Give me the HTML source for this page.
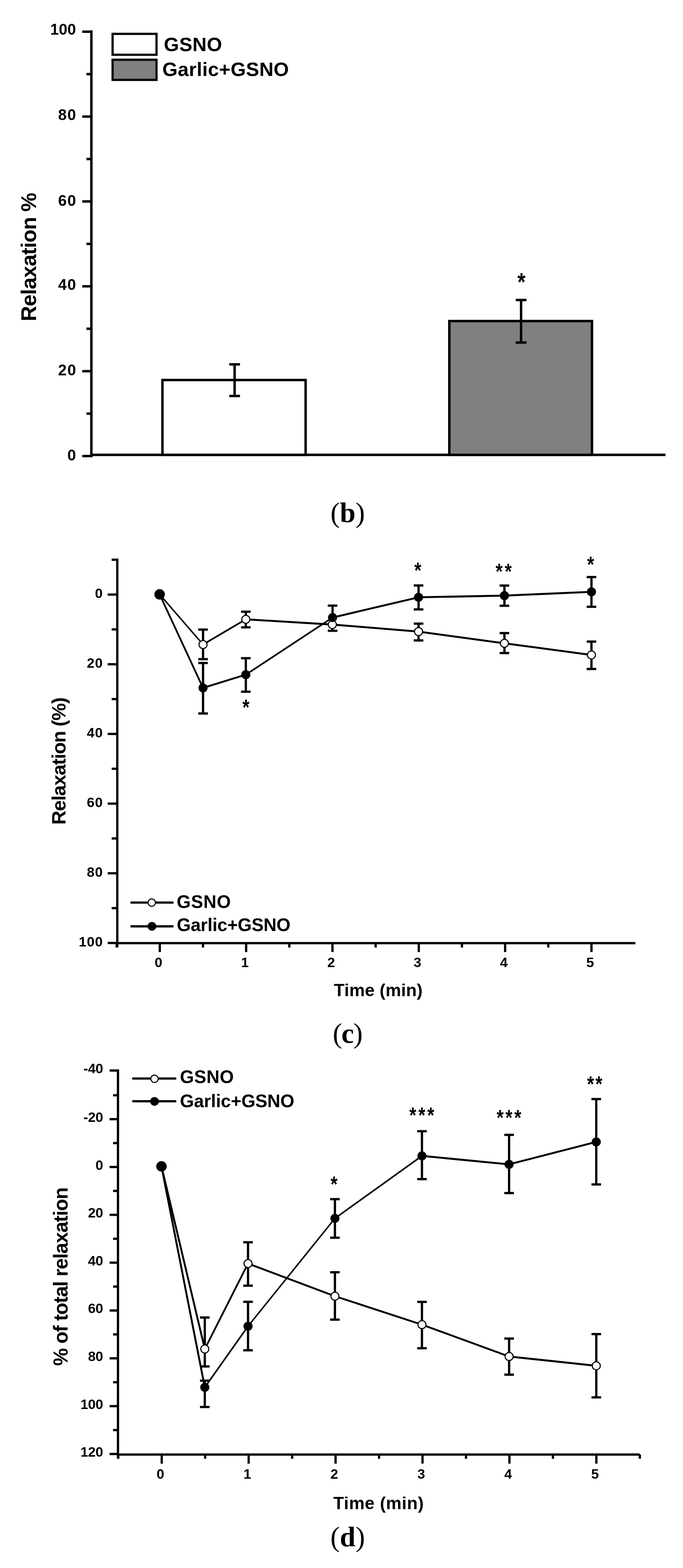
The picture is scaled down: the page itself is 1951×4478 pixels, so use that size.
<!DOCTYPE html>
<html><head><meta charset="utf-8"><title>Figure</title>
<style>
html,body{margin:0;padding:0;background:#fff;}
svg{display:block;}
line,path{stroke:#000;}
text{fill:#000;}
.sb{font-family:"Liberation Sans",Arial,sans-serif;font-weight:bold;}
.lab{font-family:"Liberation Serif","Times New Roman",serif;}
</style></head>
<body>
<svg width="1951" height="4478" viewBox="0 0 1951 4478">
<rect width="1951" height="4478" fill="#fff"/>
<line x1="261.0" y1="86.5" x2="261.0" y2="1306.0" stroke-width="7" stroke-linecap="butt"/>
<line x1="261.0" y1="1299.0" x2="1901.0" y2="1299.0" stroke-width="7" stroke-linecap="butt"/>
<line x1="235.0" y1="1302.5" x2="261.0" y2="1302.5" stroke-width="7" stroke-linecap="butt"/>
<line x1="247.0" y1="1181.3" x2="261.0" y2="1181.3" stroke-width="7" stroke-linecap="butt"/>
<line x1="235.0" y1="1060.1" x2="261.0" y2="1060.1" stroke-width="7" stroke-linecap="butt"/>
<line x1="247.0" y1="938.9" x2="261.0" y2="938.9" stroke-width="7" stroke-linecap="butt"/>
<line x1="235.0" y1="817.7" x2="261.0" y2="817.7" stroke-width="7" stroke-linecap="butt"/>
<line x1="247.0" y1="696.5" x2="261.0" y2="696.5" stroke-width="7" stroke-linecap="butt"/>
<line x1="235.0" y1="575.3" x2="261.0" y2="575.3" stroke-width="7" stroke-linecap="butt"/>
<line x1="247.0" y1="454.1" x2="261.0" y2="454.1" stroke-width="7" stroke-linecap="butt"/>
<line x1="235.0" y1="332.9" x2="261.0" y2="332.9" stroke-width="7" stroke-linecap="butt"/>
<line x1="247.0" y1="211.7" x2="261.0" y2="211.7" stroke-width="7" stroke-linecap="butt"/>
<line x1="235.0" y1="90.5" x2="261.0" y2="90.5" stroke-width="7" stroke-linecap="butt"/>
<rect x="464" y="1085.3" width="409" height="213.7" fill="#fff" stroke="#000" stroke-width="7"/>
<rect x="1283.5" y="916.9" width="407.5" height="382.1" fill="#808080" stroke="#000" stroke-width="7"/>
<line x1="670.2" y1="1040.5" x2="670.2" y2="1130.9" stroke-width="7" stroke-linecap="butt"/>
<line x1="654.9" y1="1040.5" x2="685.5" y2="1040.5" stroke-width="7" stroke-linecap="butt"/>
<line x1="654.9" y1="1130.9" x2="685.5" y2="1130.9" stroke-width="7" stroke-linecap="butt"/>
<line x1="1488.5" y1="856.8" x2="1488.5" y2="978.3" stroke-width="7" stroke-linecap="butt"/>
<line x1="1473.1" y1="856.8" x2="1503.9" y2="856.8" stroke-width="7" stroke-linecap="butt"/>
<line x1="1473.1" y1="978.3" x2="1503.9" y2="978.3" stroke-width="7" stroke-linecap="butt"/>
<rect x="321.6" y="96.7" width="125.5" height="59.7" fill="#fff" stroke="#000" stroke-width="6.3"/>
<rect x="321.6" y="170.6" width="125.5" height="57.6" fill="#808080" stroke="#000" stroke-width="6.3"/>
<line x1="335.0" y1="1595.3" x2="335.0" y2="2706.0" stroke-width="6.5" stroke-linecap="butt"/>
<line x1="335.0" y1="2693.5" x2="1815.0" y2="2693.5" stroke-width="6.5" stroke-linecap="butt"/>
<line x1="319.0" y1="1598.5" x2="335.0" y2="1598.5" stroke-width="6.5" stroke-linecap="butt"/>
<line x1="307.5" y1="1698.0" x2="335.0" y2="1698.0" stroke-width="6.5" stroke-linecap="butt"/>
<line x1="319.0" y1="1797.5" x2="335.0" y2="1797.5" stroke-width="6.5" stroke-linecap="butt"/>
<line x1="307.5" y1="1897.0" x2="335.0" y2="1897.0" stroke-width="6.5" stroke-linecap="butt"/>
<line x1="319.0" y1="1996.5" x2="335.0" y2="1996.5" stroke-width="6.5" stroke-linecap="butt"/>
<line x1="307.5" y1="2096.0" x2="335.0" y2="2096.0" stroke-width="6.5" stroke-linecap="butt"/>
<line x1="319.0" y1="2195.5" x2="335.0" y2="2195.5" stroke-width="6.5" stroke-linecap="butt"/>
<line x1="307.5" y1="2295.0" x2="335.0" y2="2295.0" stroke-width="6.5" stroke-linecap="butt"/>
<line x1="319.0" y1="2394.5" x2="335.0" y2="2394.5" stroke-width="6.5" stroke-linecap="butt"/>
<line x1="307.5" y1="2494.0" x2="335.0" y2="2494.0" stroke-width="6.5" stroke-linecap="butt"/>
<line x1="319.0" y1="2593.5" x2="335.0" y2="2593.5" stroke-width="6.5" stroke-linecap="butt"/>
<line x1="307.5" y1="2693.0" x2="335.0" y2="2693.0" stroke-width="6.5" stroke-linecap="butt"/>
<line x1="333.2" y1="2693.5" x2="333.2" y2="2706.0" stroke-width="6.5" stroke-linecap="butt"/>
<line x1="456.5" y1="2693.5" x2="456.5" y2="2719.0" stroke-width="6.5" stroke-linecap="butt"/>
<line x1="579.8" y1="2693.5" x2="579.8" y2="2706.0" stroke-width="6.5" stroke-linecap="butt"/>
<line x1="703.1" y1="2693.5" x2="703.1" y2="2719.0" stroke-width="6.5" stroke-linecap="butt"/>
<line x1="826.4" y1="2693.5" x2="826.4" y2="2706.0" stroke-width="6.5" stroke-linecap="butt"/>
<line x1="949.7" y1="2693.5" x2="949.7" y2="2719.0" stroke-width="6.5" stroke-linecap="butt"/>
<line x1="1073.0" y1="2693.5" x2="1073.0" y2="2706.0" stroke-width="6.5" stroke-linecap="butt"/>
<line x1="1196.3" y1="2693.5" x2="1196.3" y2="2719.0" stroke-width="6.5" stroke-linecap="butt"/>
<line x1="1319.6" y1="2693.5" x2="1319.6" y2="2706.0" stroke-width="6.5" stroke-linecap="butt"/>
<line x1="1442.9" y1="2693.5" x2="1442.9" y2="2719.0" stroke-width="6.5" stroke-linecap="butt"/>
<line x1="1566.2" y1="2693.5" x2="1566.2" y2="2706.0" stroke-width="6.5" stroke-linecap="butt"/>
<line x1="1689.5" y1="2693.5" x2="1689.5" y2="2719.0" stroke-width="6.5" stroke-linecap="butt"/>
<line x1="337.0" y1="3054.0" x2="337.0" y2="4166.0" stroke-width="6.5" stroke-linecap="butt"/>
<line x1="337.0" y1="4154.0" x2="1827.4" y2="4154.0" stroke-width="6.5" stroke-linecap="butt"/>
<line x1="313.0" y1="3057.3" x2="337.0" y2="3057.3" stroke-width="6.5" stroke-linecap="butt"/>
<line x1="323.0" y1="3127.9" x2="337.0" y2="3127.9" stroke-width="6.5" stroke-linecap="butt"/>
<line x1="313.0" y1="3196.2" x2="337.0" y2="3196.2" stroke-width="6.5" stroke-linecap="butt"/>
<line x1="323.0" y1="3264.5" x2="337.0" y2="3264.5" stroke-width="6.5" stroke-linecap="butt"/>
<line x1="313.0" y1="3332.8" x2="337.0" y2="3332.8" stroke-width="6.5" stroke-linecap="butt"/>
<line x1="323.0" y1="3401.1" x2="337.0" y2="3401.1" stroke-width="6.5" stroke-linecap="butt"/>
<line x1="313.0" y1="3469.4" x2="337.0" y2="3469.4" stroke-width="6.5" stroke-linecap="butt"/>
<line x1="323.0" y1="3537.7" x2="337.0" y2="3537.7" stroke-width="6.5" stroke-linecap="butt"/>
<line x1="313.0" y1="3606.0" x2="337.0" y2="3606.0" stroke-width="6.5" stroke-linecap="butt"/>
<line x1="323.0" y1="3674.3" x2="337.0" y2="3674.3" stroke-width="6.5" stroke-linecap="butt"/>
<line x1="313.0" y1="3742.6" x2="337.0" y2="3742.6" stroke-width="6.5" stroke-linecap="butt"/>
<line x1="323.0" y1="3810.9" x2="337.0" y2="3810.9" stroke-width="6.5" stroke-linecap="butt"/>
<line x1="313.0" y1="3879.2" x2="337.0" y2="3879.2" stroke-width="6.5" stroke-linecap="butt"/>
<line x1="323.0" y1="3947.5" x2="337.0" y2="3947.5" stroke-width="6.5" stroke-linecap="butt"/>
<line x1="313.0" y1="4015.8" x2="337.0" y2="4015.8" stroke-width="6.5" stroke-linecap="butt"/>
<line x1="323.0" y1="4084.1" x2="337.0" y2="4084.1" stroke-width="6.5" stroke-linecap="butt"/>
<line x1="313.0" y1="4152.4" x2="337.0" y2="4152.4" stroke-width="6.5" stroke-linecap="butt"/>
<line x1="337.9" y1="4154.0" x2="337.9" y2="4166.0" stroke-width="6.5" stroke-linecap="butt"/>
<line x1="462.0" y1="4154.0" x2="462.0" y2="4180.0" stroke-width="6.5" stroke-linecap="butt"/>
<line x1="586.1" y1="4154.0" x2="586.1" y2="4166.0" stroke-width="6.5" stroke-linecap="butt"/>
<line x1="710.3" y1="4154.0" x2="710.3" y2="4180.0" stroke-width="6.5" stroke-linecap="butt"/>
<line x1="834.5" y1="4154.0" x2="834.5" y2="4166.0" stroke-width="6.5" stroke-linecap="butt"/>
<line x1="958.6" y1="4154.0" x2="958.6" y2="4180.0" stroke-width="6.5" stroke-linecap="butt"/>
<line x1="1082.8" y1="4154.0" x2="1082.8" y2="4166.0" stroke-width="6.5" stroke-linecap="butt"/>
<line x1="1206.9" y1="4154.0" x2="1206.9" y2="4180.0" stroke-width="6.5" stroke-linecap="butt"/>
<line x1="1331.1" y1="4154.0" x2="1331.1" y2="4166.0" stroke-width="6.5" stroke-linecap="butt"/>
<line x1="1455.2" y1="4154.0" x2="1455.2" y2="4180.0" stroke-width="6.5" stroke-linecap="butt"/>
<line x1="1579.4" y1="4154.0" x2="1579.4" y2="4166.0" stroke-width="6.5" stroke-linecap="butt"/>
<line x1="1703.5" y1="4154.0" x2="1703.5" y2="4180.0" stroke-width="6.5" stroke-linecap="butt"/>
<line x1="1827.7" y1="4154.0" x2="1827.7" y2="4166.0" stroke-width="6.5" stroke-linecap="butt"/>
<line x1="580.0" y1="1798.0" x2="580.0" y2="1882.5" stroke-width="6.5" stroke-linecap="butt"/>
<line x1="566.3" y1="1798.0" x2="593.7" y2="1798.0" stroke-width="6.5" stroke-linecap="butt"/>
<line x1="566.3" y1="1882.5" x2="593.7" y2="1882.5" stroke-width="6.5" stroke-linecap="butt"/>
<line x1="702.2" y1="1746.9" x2="702.2" y2="1791.6" stroke-width="6.5" stroke-linecap="butt"/>
<line x1="688.5" y1="1746.9" x2="715.9" y2="1746.9" stroke-width="6.5" stroke-linecap="butt"/>
<line x1="688.5" y1="1791.6" x2="715.9" y2="1791.6" stroke-width="6.5" stroke-linecap="butt"/>
<line x1="1195.6" y1="1781.0" x2="1195.6" y2="1829.0" stroke-width="6.5" stroke-linecap="butt"/>
<line x1="1181.9" y1="1781.0" x2="1209.3" y2="1781.0" stroke-width="6.5" stroke-linecap="butt"/>
<line x1="1181.9" y1="1829.0" x2="1209.3" y2="1829.0" stroke-width="6.5" stroke-linecap="butt"/>
<line x1="1440.9" y1="1808.0" x2="1440.9" y2="1865.0" stroke-width="6.5" stroke-linecap="butt"/>
<line x1="1427.2" y1="1808.0" x2="1454.6" y2="1808.0" stroke-width="6.5" stroke-linecap="butt"/>
<line x1="1427.2" y1="1865.0" x2="1454.6" y2="1865.0" stroke-width="6.5" stroke-linecap="butt"/>
<line x1="1689.5" y1="1832.3" x2="1689.5" y2="1910.5" stroke-width="6.5" stroke-linecap="butt"/>
<line x1="1675.8" y1="1832.3" x2="1703.2" y2="1832.3" stroke-width="6.5" stroke-linecap="butt"/>
<line x1="1675.8" y1="1910.5" x2="1703.2" y2="1910.5" stroke-width="6.5" stroke-linecap="butt"/>
<line x1="580.0" y1="1893.4" x2="580.0" y2="2037.6" stroke-width="6.5" stroke-linecap="butt"/>
<line x1="566.3" y1="1893.4" x2="593.7" y2="1893.4" stroke-width="6.5" stroke-linecap="butt"/>
<line x1="566.3" y1="2037.6" x2="593.7" y2="2037.6" stroke-width="6.5" stroke-linecap="butt"/>
<line x1="702.2" y1="1879.7" x2="702.2" y2="1975.4" stroke-width="6.5" stroke-linecap="butt"/>
<line x1="688.5" y1="1879.7" x2="715.9" y2="1879.7" stroke-width="6.5" stroke-linecap="butt"/>
<line x1="688.5" y1="1975.4" x2="715.9" y2="1975.4" stroke-width="6.5" stroke-linecap="butt"/>
<line x1="950.0" y1="1729.6" x2="950.0" y2="1801.4" stroke-width="6.5" stroke-linecap="butt"/>
<line x1="936.3" y1="1729.6" x2="963.7" y2="1729.6" stroke-width="6.5" stroke-linecap="butt"/>
<line x1="936.3" y1="1801.4" x2="963.7" y2="1801.4" stroke-width="6.5" stroke-linecap="butt"/>
<line x1="1195.6" y1="1672.0" x2="1195.6" y2="1740.4" stroke-width="6.5" stroke-linecap="butt"/>
<line x1="1181.9" y1="1672.0" x2="1209.3" y2="1672.0" stroke-width="6.5" stroke-linecap="butt"/>
<line x1="1181.9" y1="1740.4" x2="1209.3" y2="1740.4" stroke-width="6.5" stroke-linecap="butt"/>
<line x1="1440.9" y1="1672.3" x2="1440.9" y2="1730.0" stroke-width="6.5" stroke-linecap="butt"/>
<line x1="1427.2" y1="1672.3" x2="1454.6" y2="1672.3" stroke-width="6.5" stroke-linecap="butt"/>
<line x1="1427.2" y1="1730.0" x2="1454.6" y2="1730.0" stroke-width="6.5" stroke-linecap="butt"/>
<line x1="1689.5" y1="1648.0" x2="1689.5" y2="1732.9" stroke-width="6.5" stroke-linecap="butt"/>
<line x1="1675.8" y1="1648.0" x2="1703.2" y2="1648.0" stroke-width="6.5" stroke-linecap="butt"/>
<line x1="1675.8" y1="1732.9" x2="1703.2" y2="1732.9" stroke-width="6.5" stroke-linecap="butt"/>
<line x1="456.0" y1="1697.5" x2="580.0" y2="1840.7" stroke-width="4.23" stroke-linecap="round"/>
<line x1="580.0" y1="1840.7" x2="702.2" y2="1768.7" stroke-width="4.82" stroke-linecap="round"/>
<line x1="702.2" y1="1768.7" x2="949.3" y2="1783.6" stroke-width="5.59" stroke-linecap="round"/>
<line x1="949.3" y1="1783.6" x2="1195.6" y2="1803.8" stroke-width="5.58" stroke-linecap="round"/>
<line x1="1195.6" y1="1803.8" x2="1440.9" y2="1837.2" stroke-width="5.55" stroke-linecap="round"/>
<line x1="1440.9" y1="1837.2" x2="1689.5" y2="1870.4" stroke-width="5.55" stroke-linecap="round"/>
<line x1="456.0" y1="1697.5" x2="580.0" y2="1964.5" stroke-width="5.08" stroke-linecap="round"/>
<line x1="580.0" y1="1964.5" x2="702.2" y2="1926.8" stroke-width="5.35" stroke-linecap="round"/>
<line x1="702.2" y1="1926.8" x2="950.0" y2="1763.6" stroke-width="4.68" stroke-linecap="round"/>
<line x1="950.0" y1="1763.6" x2="1195.6" y2="1705.8" stroke-width="5.45" stroke-linecap="round"/>
<line x1="1195.6" y1="1705.8" x2="1440.9" y2="1701.0" stroke-width="5.60" stroke-linecap="round"/>
<line x1="1440.9" y1="1701.0" x2="1689.5" y2="1690.2" stroke-width="5.59" stroke-linecap="round"/>
<circle cx="580.0" cy="1840.7" r="11.5" fill="#fff" stroke="#000" stroke-width="3"/>
<circle cx="702.2" cy="1768.7" r="11.5" fill="#fff" stroke="#000" stroke-width="3"/>
<circle cx="949.3" cy="1783.6" r="11.5" fill="#fff" stroke="#000" stroke-width="3"/>
<circle cx="1195.6" cy="1803.8" r="11.5" fill="#fff" stroke="#000" stroke-width="3"/>
<circle cx="1440.9" cy="1837.2" r="11.5" fill="#fff" stroke="#000" stroke-width="3"/>
<circle cx="1689.5" cy="1870.4" r="11.5" fill="#fff" stroke="#000" stroke-width="3"/>
<circle cx="580.0" cy="1964.5" r="13" fill="#000"/>
<circle cx="702.2" cy="1926.8" r="13" fill="#000"/>
<circle cx="950.0" cy="1763.6" r="13" fill="#000"/>
<circle cx="1195.6" cy="1705.8" r="13" fill="#000"/>
<circle cx="1440.9" cy="1701.0" r="13" fill="#000"/>
<circle cx="1689.5" cy="1690.2" r="13" fill="#000"/>
<circle cx="456" cy="1697.5" r="15" fill="#000"/>
<line x1="585.0" y1="3762.6" x2="585.0" y2="3902.4" stroke-width="6.5" stroke-linecap="butt"/>
<line x1="571.3" y1="3762.6" x2="598.7" y2="3762.6" stroke-width="6.5" stroke-linecap="butt"/>
<line x1="571.3" y1="3902.4" x2="598.7" y2="3902.4" stroke-width="6.5" stroke-linecap="butt"/>
<line x1="708.5" y1="3547.7" x2="708.5" y2="3671.7" stroke-width="6.5" stroke-linecap="butt"/>
<line x1="694.8" y1="3547.7" x2="722.2" y2="3547.7" stroke-width="6.5" stroke-linecap="butt"/>
<line x1="694.8" y1="3671.7" x2="722.2" y2="3671.7" stroke-width="6.5" stroke-linecap="butt"/>
<line x1="956.7" y1="3633.4" x2="956.7" y2="3768.7" stroke-width="6.5" stroke-linecap="butt"/>
<line x1="943.0" y1="3633.4" x2="970.4" y2="3633.4" stroke-width="6.5" stroke-linecap="butt"/>
<line x1="943.0" y1="3768.7" x2="970.4" y2="3768.7" stroke-width="6.5" stroke-linecap="butt"/>
<line x1="1205.3" y1="3718.0" x2="1205.3" y2="3850.4" stroke-width="6.5" stroke-linecap="butt"/>
<line x1="1191.6" y1="3718.0" x2="1219.0" y2="3718.0" stroke-width="6.5" stroke-linecap="butt"/>
<line x1="1191.6" y1="3850.4" x2="1219.0" y2="3850.4" stroke-width="6.5" stroke-linecap="butt"/>
<line x1="1454.3" y1="3822.7" x2="1454.3" y2="3925.9" stroke-width="6.5" stroke-linecap="butt"/>
<line x1="1440.6" y1="3822.7" x2="1468.0" y2="3822.7" stroke-width="6.5" stroke-linecap="butt"/>
<line x1="1440.6" y1="3925.9" x2="1468.0" y2="3925.9" stroke-width="6.5" stroke-linecap="butt"/>
<line x1="1703.3" y1="3810.0" x2="1703.3" y2="3990.7" stroke-width="6.5" stroke-linecap="butt"/>
<line x1="1689.6" y1="3810.0" x2="1717.0" y2="3810.0" stroke-width="6.5" stroke-linecap="butt"/>
<line x1="1689.6" y1="3990.7" x2="1717.0" y2="3990.7" stroke-width="6.5" stroke-linecap="butt"/>
<line x1="585.0" y1="3943.0" x2="585.0" y2="4018.2" stroke-width="6.5" stroke-linecap="butt"/>
<line x1="571.3" y1="3943.0" x2="598.7" y2="3943.0" stroke-width="6.5" stroke-linecap="butt"/>
<line x1="571.3" y1="4018.2" x2="598.7" y2="4018.2" stroke-width="6.5" stroke-linecap="butt"/>
<line x1="708.5" y1="3717.8" x2="708.5" y2="3856.2" stroke-width="6.5" stroke-linecap="butt"/>
<line x1="694.8" y1="3717.8" x2="722.2" y2="3717.8" stroke-width="6.5" stroke-linecap="butt"/>
<line x1="694.8" y1="3856.2" x2="722.2" y2="3856.2" stroke-width="6.5" stroke-linecap="butt"/>
<line x1="956.7" y1="3424.6" x2="956.7" y2="3534.7" stroke-width="6.5" stroke-linecap="butt"/>
<line x1="943.0" y1="3424.6" x2="970.4" y2="3424.6" stroke-width="6.5" stroke-linecap="butt"/>
<line x1="943.0" y1="3534.7" x2="970.4" y2="3534.7" stroke-width="6.5" stroke-linecap="butt"/>
<line x1="1205.3" y1="3230.6" x2="1205.3" y2="3367.4" stroke-width="6.5" stroke-linecap="butt"/>
<line x1="1191.6" y1="3230.6" x2="1219.0" y2="3230.6" stroke-width="6.5" stroke-linecap="butt"/>
<line x1="1191.6" y1="3367.4" x2="1219.0" y2="3367.4" stroke-width="6.5" stroke-linecap="butt"/>
<line x1="1454.2" y1="3241.0" x2="1454.2" y2="3407.2" stroke-width="6.5" stroke-linecap="butt"/>
<line x1="1440.5" y1="3241.0" x2="1467.9" y2="3241.0" stroke-width="6.5" stroke-linecap="butt"/>
<line x1="1440.5" y1="3407.2" x2="1467.9" y2="3407.2" stroke-width="6.5" stroke-linecap="butt"/>
<line x1="1703.2" y1="3138.8" x2="1703.2" y2="3382.6" stroke-width="6.5" stroke-linecap="butt"/>
<line x1="1689.5" y1="3138.8" x2="1716.9" y2="3138.8" stroke-width="6.5" stroke-linecap="butt"/>
<line x1="1689.5" y1="3382.6" x2="1716.9" y2="3382.6" stroke-width="6.5" stroke-linecap="butt"/>
<line x1="461.3" y1="3331.0" x2="585.0" y2="3852.6" stroke-width="5.45" stroke-linecap="round"/>
<line x1="585.0" y1="3852.6" x2="708.5" y2="3608.5" stroke-width="5.00" stroke-linecap="round"/>
<line x1="708.5" y1="3608.5" x2="956.7" y2="3701.8" stroke-width="5.24" stroke-linecap="round"/>
<line x1="956.7" y1="3701.8" x2="1205.3" y2="3783.0" stroke-width="5.32" stroke-linecap="round"/>
<line x1="1205.3" y1="3783.0" x2="1454.3" y2="3874.0" stroke-width="5.26" stroke-linecap="round"/>
<line x1="1454.3" y1="3874.0" x2="1703.3" y2="3900.4" stroke-width="5.57" stroke-linecap="round"/>
<line x1="461.3" y1="3331.0" x2="585.0" y2="3962.1" stroke-width="5.50" stroke-linecap="round"/>
<line x1="585.0" y1="3962.1" x2="708.5" y2="3787.5" stroke-width="4.57" stroke-linecap="round"/>
<line x1="708.5" y1="3787.5" x2="956.7" y2="3479.5" stroke-width="4.36" stroke-linecap="round"/>
<line x1="956.7" y1="3479.5" x2="1205.3" y2="3301.1" stroke-width="4.55" stroke-linecap="round"/>
<line x1="1205.3" y1="3301.1" x2="1454.2" y2="3325.2" stroke-width="5.57" stroke-linecap="round"/>
<line x1="1454.2" y1="3325.2" x2="1703.2" y2="3261.2" stroke-width="5.42" stroke-linecap="round"/>
<circle cx="585.0" cy="3852.6" r="11.5" fill="#fff" stroke="#000" stroke-width="3"/>
<circle cx="708.5" cy="3608.5" r="11.5" fill="#fff" stroke="#000" stroke-width="3"/>
<circle cx="956.7" cy="3701.8" r="11.5" fill="#fff" stroke="#000" stroke-width="3"/>
<circle cx="1205.3" cy="3783.0" r="11.5" fill="#fff" stroke="#000" stroke-width="3"/>
<circle cx="1454.3" cy="3874.0" r="11.5" fill="#fff" stroke="#000" stroke-width="3"/>
<circle cx="1703.3" cy="3900.4" r="11.5" fill="#fff" stroke="#000" stroke-width="3"/>
<circle cx="585.0" cy="3962.1" r="13" fill="#000"/>
<circle cx="708.5" cy="3787.5" r="13" fill="#000"/>
<circle cx="956.7" cy="3479.5" r="13" fill="#000"/>
<circle cx="1205.3" cy="3301.1" r="13" fill="#000"/>
<circle cx="1454.2" cy="3325.2" r="13" fill="#000"/>
<circle cx="1703.2" cy="3261.2" r="13" fill="#000"/>
<circle cx="461.3" cy="3331" r="15" fill="#000"/>
<line x1="372.8" y1="2577.7" x2="495.5" y2="2577.7" stroke-width="6.3" stroke-linecap="butt"/>
<circle cx="433.5" cy="2577.8" r="10.5" fill="#fff" stroke="#000" stroke-width="3"/>
<line x1="372.8" y1="2645.5" x2="495.5" y2="2645.5" stroke-width="6.3" stroke-linecap="butt"/>
<circle cx="434" cy="2645.5" r="12.5" fill="#000"/>
<line x1="377.8" y1="3080.1" x2="503.5" y2="3080.1" stroke-width="6.3" stroke-linecap="butt"/>
<circle cx="441.3" cy="3080.8" r="10.5" fill="#fff" stroke="#000" stroke-width="3"/>
<line x1="377.8" y1="3145.0" x2="503.5" y2="3145.0" stroke-width="6.3" stroke-linecap="butt"/>
<circle cx="441.3" cy="3145.4" r="12.5" fill="#000"/>
<text class="sb" x="217.0" y="99.2" font-size="44" text-anchor="end" >100</text>
<text class="sb" x="219.1" y="343.3" font-size="44" text-anchor="end" style="letter-spacing:2.1px" >80</text>
<text class="sb" x="219.1" y="587.6" font-size="44" text-anchor="end" style="letter-spacing:2.1px" >60</text>
<text class="sb" x="219.1" y="827.6" font-size="44" text-anchor="end" style="letter-spacing:2.1px" >40</text>
<text class="sb" x="219.1" y="1071.5" font-size="44" text-anchor="end" style="letter-spacing:2.1px" >20</text>
<text class="sb" x="217.0" y="1315.0" font-size="44" text-anchor="end" >0</text>
<text class="sb" x="294.4" y="1707.5" font-size="39.5" text-anchor="end" style="letter-spacing:1.2px" >0</text>
<text class="sb" x="294.4" y="1906.5" font-size="39.5" text-anchor="end" style="letter-spacing:1.2px" >20</text>
<text class="sb" x="294.4" y="2105.5" font-size="39.5" text-anchor="end" style="letter-spacing:1.2px" >40</text>
<text class="sb" x="294.4" y="2304.5" font-size="39.5" text-anchor="end" style="letter-spacing:1.2px" >60</text>
<text class="sb" x="294.4" y="2503.5" font-size="39.5" text-anchor="end" style="letter-spacing:1.2px" >80</text>
<text class="sb" x="294.4" y="2702.5" font-size="39.5" text-anchor="end" style="letter-spacing:1.2px" >100</text>
<text class="sb" x="452.8" y="2761.5" font-size="39.5" text-anchor="middle" >0</text>
<text class="sb" x="699.4" y="2761.5" font-size="39.5" text-anchor="middle" >1</text>
<text class="sb" x="946.0" y="2761.5" font-size="39.5" text-anchor="middle" >2</text>
<text class="sb" x="1192.6" y="2761.5" font-size="39.5" text-anchor="middle" >3</text>
<text class="sb" x="1439.2" y="2761.5" font-size="39.5" text-anchor="middle" >4</text>
<text class="sb" x="1685.8" y="2761.5" font-size="39.5" text-anchor="middle" >5</text>
<text class="sb" x="294.2" y="3065.1" font-size="39.5" text-anchor="end" style="letter-spacing:-0.5px" >-40</text>
<text class="sb" x="294.2" y="3204.0" font-size="39.5" text-anchor="end" style="letter-spacing:-0.5px" >-20</text>
<text class="sb" x="294.2" y="3340.6" font-size="39.5" text-anchor="end" style="letter-spacing:-0.5px" >0</text>
<text class="sb" x="294.2" y="3477.2" font-size="39.5" text-anchor="end" style="letter-spacing:-0.5px" >20</text>
<text class="sb" x="294.2" y="3613.8" font-size="39.5" text-anchor="end" style="letter-spacing:-0.5px" >40</text>
<text class="sb" x="294.2" y="3750.4" font-size="39.5" text-anchor="end" style="letter-spacing:-0.5px" >60</text>
<text class="sb" x="294.2" y="3887.0" font-size="39.5" text-anchor="end" style="letter-spacing:-0.5px" >80</text>
<text class="sb" x="294.2" y="4023.6" font-size="39.5" text-anchor="end" style="letter-spacing:-0.5px" >100</text>
<text class="sb" x="294.2" y="4160.2" font-size="39.5" text-anchor="end" style="letter-spacing:-0.5px" >120</text>
<text class="sb" x="458.3" y="4222.8" font-size="39.5" text-anchor="middle" >0</text>
<text class="sb" x="706.6" y="4222.8" font-size="39.5" text-anchor="middle" >1</text>
<text class="sb" x="954.9" y="4222.8" font-size="39.5" text-anchor="middle" >2</text>
<text class="sb" x="1203.2" y="4222.8" font-size="39.5" text-anchor="middle" >3</text>
<text class="sb" x="1451.5" y="4222.8" font-size="39.5" text-anchor="middle" >4</text>
<text class="sb" x="1699.8" y="4222.8" font-size="39.5" text-anchor="middle" >5</text>
<text class="sb" x="468.0" y="145.7" font-size="56" text-anchor="start" style="letter-spacing:0.43px" >GSNO</text>
<text class="sb" x="463.8" y="217.4" font-size="56" text-anchor="start" style="letter-spacing:0.5px" >Garlic+GSNO</text>
<text class="sb" x="504.7" y="2593.4" font-size="51.5" text-anchor="start" style="letter-spacing:1.0px" >GSNO</text>
<text class="sb" x="505.0" y="2658.6" font-size="51.5" text-anchor="start" style="letter-spacing:-0.3px" >Garlic+GSNO</text>
<text class="sb" x="514.0" y="3093.1" font-size="51.5" text-anchor="start" style="letter-spacing:0.7px" >GSNO</text>
<text class="sb" x="514.0" y="3162.4" font-size="51.5" text-anchor="start" style="letter-spacing:-0.1px" >Garlic+GSNO</text>
<text class="sb" x="103.0" y="917.6" font-size="61" style="letter-spacing:-1.13px" transform="rotate(-90 103.0 917.6)">Relaxation %</text>
<text class="sb" x="187.0" y="2355.3" font-size="56" style="letter-spacing:-1.66px" transform="rotate(-90 187.0 2355.3)">Relaxation (%)</text>
<text class="sb" x="193.5" y="3900.6" font-size="56.8" style="letter-spacing:-1.48px" transform="rotate(-90 193.5 3900.6)">% of total relaxation</text>
<text class="sb" x="953.8" y="2845.4" font-size="50" text-anchor="start" style="letter-spacing:0.17px" >Time (min)</text>
<text class="sb" x="951.9" y="4309.6" font-size="50" text-anchor="start" style="letter-spacing:0.73px" >Time (min)</text>
<text class="lab" x="944.0" y="1491.0" font-size="80.5">(<tspan font-weight="bold">b</tspan>)</text>
<text class="lab" x="950.4" y="2977.7" font-size="80.5" style="letter-spacing:-1.9px">(<tspan font-weight="bold">c</tspan>)</text>
<text class="lab" x="943.7" y="4415.7" font-size="80.5" style="letter-spacing:0.25px">(<tspan font-weight="bold">d</tspan>)</text>
<text class="sb" x="1489.5" y="826.3" font-size="64" text-anchor="middle" style="letter-spacing:0.00px" transform="translate(1489.5 794.0) scale(0.93 1.13) translate(-1489.5 -794.0)">*</text>
<text class="sb" x="702.6" y="2038.1" font-size="56" text-anchor="middle" style="letter-spacing:0.00px" transform="translate(702.6 2009.8) scale(0.92 1.12) translate(-702.6 -2009.8)">*</text>
<text class="sb" x="1193.4" y="1646.9" font-size="56" text-anchor="middle" style="letter-spacing:0.00px" transform="translate(1193.4 1618.6) scale(0.92 1.12) translate(-1193.4 -1618.6)">*</text>
<text class="sb" x="1442.1" y="1650.1" font-size="56" text-anchor="middle" style="letter-spacing:6.52px" transform="translate(1438.8 1621.8) scale(0.92 1.12) translate(-1438.8 -1621.8)">**</text>
<text class="sb" x="1687.2" y="1629.5" font-size="56" text-anchor="middle" style="letter-spacing:0.00px" transform="translate(1687.2 1601.2) scale(0.92 1.12) translate(-1687.2 -1601.2)">*</text>
<text class="sb" x="954.4" y="3399.9" font-size="56" text-anchor="middle" style="letter-spacing:0.00px" transform="translate(954.4 3371.6) scale(0.92 1.12) translate(-954.4 -3371.6)">*</text>
<text class="sb" x="1207.9" y="3202.2" font-size="56" text-anchor="middle" style="letter-spacing:5.98px" transform="translate(1204.9 3173.9) scale(0.92 1.12) translate(-1204.9 -3173.9)">***</text>
<text class="sb" x="1456.5" y="3209.5" font-size="56" text-anchor="middle" style="letter-spacing:5.65px" transform="translate(1453.7 3181.2) scale(0.92 1.12) translate(-1453.7 -3181.2)">***</text>
<text class="sb" x="1700.8" y="3113.7" font-size="56" text-anchor="middle" style="letter-spacing:3.80px" transform="translate(1698.9 3085.4) scale(0.92 1.12) translate(-1698.9 -3085.4)">**</text>
</svg>
</body></html>
